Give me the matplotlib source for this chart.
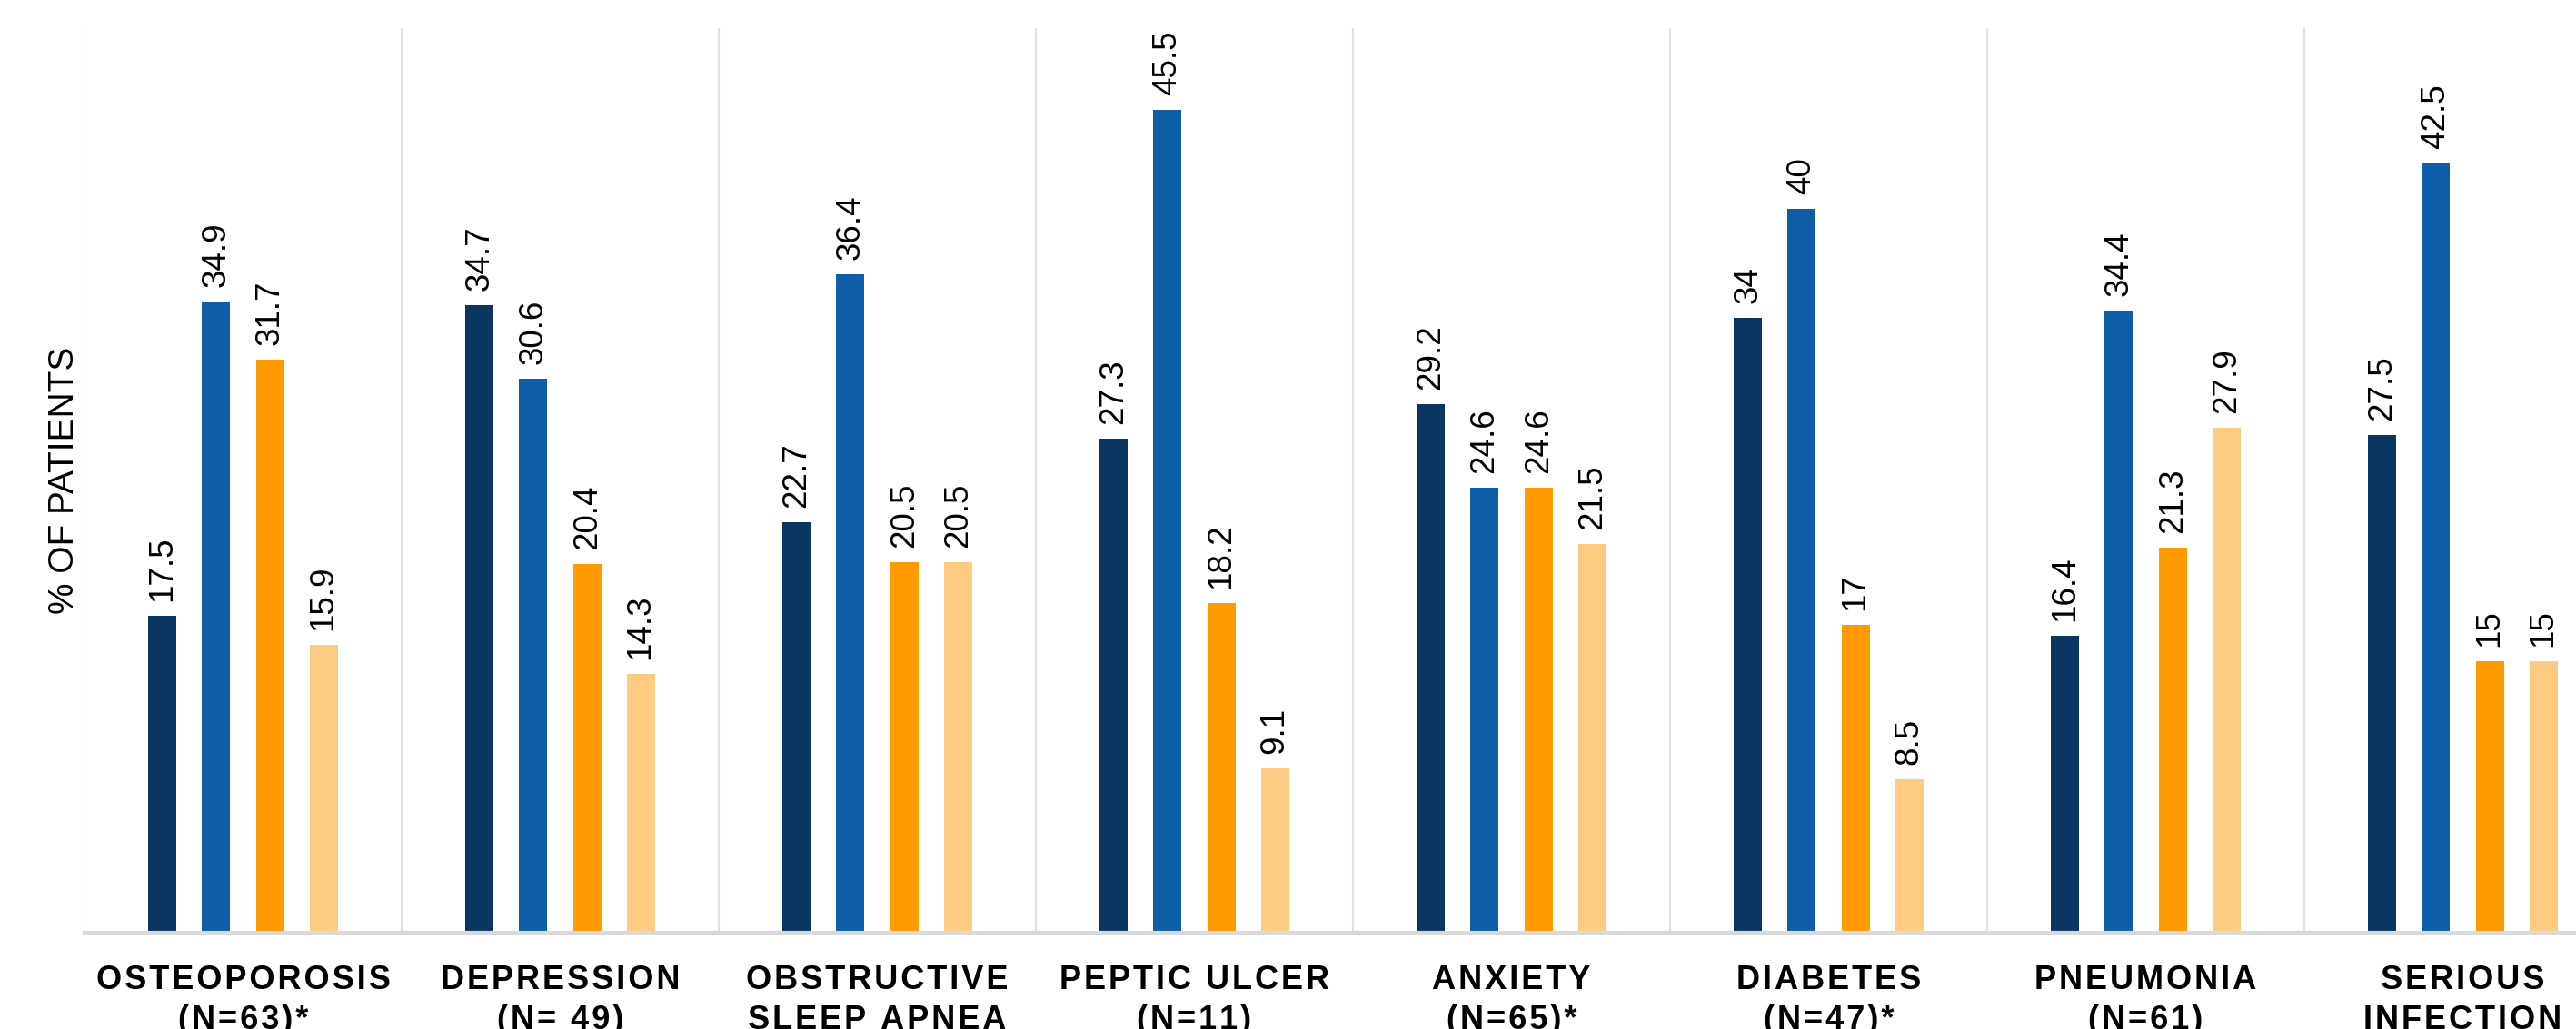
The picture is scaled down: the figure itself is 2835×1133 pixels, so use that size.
import numpy as np
import matplotlib.pyplot as plt

plt.rcParams['font.family'] = ['Liberation Sans', 'DejaVu Sans']

categorias = ['OSTEOPOROSIS\n(N=63)*', 'DEPRESSION\n(N= 49)', 'OBSTRUCTIVE\nSLEEP APNEA',
              'PEPTIC ULCER\n(N=11)', 'ANXIETY\n(N=65)*', 'DIABETES\n(N=47)*',
              'PNEUMONIA\n(N=61)', 'SERIOUS\nINFECTION']

serie_1 = [17.5, 34.7, 22.7, 27.3, 29.2, 34, 16.4, 27.5]
serie_2 = [34.9, 30.6, 36.4, 45.5, 24.6, 40, 34.4, 42.5]
serie_3 = [31.7, 20.4, 20.5, 18.2, 24.6, 17, 21.3, 15]
serie_4 = [15.9, 14.3, 20.5, 9.1, 21.5, 8.5, 27.9, 15]

colores = ['#0a3762', '#0e5fa8', '#ff9a00', '#fdcc82']


def espaciar(texto):
    # un poco de espacio entre letras, como en el original
    return '\n'.join('\u200a'.join(linea) for linea in texto.split('\n'))


fig = plt.figure(figsize=(28.35, 11.33), dpi=100)
# el eje se sale por la derecha, como en la imagen original (recortada)
ax = fig.add_axes([93 / 2835, 106 / 1133, 2792 / 2835, 996 / 1133])

x = np.arange(len(categorias))
ancho = 0.089
desplazamientos = [-0.254, -0.085, 0.085, 0.254]

for serie, color, d in zip([serie_1, serie_2, serie_3, serie_4], colores, desplazamientos):
    barras = ax.bar(x + d, serie, width=ancho, color=color, zorder=2)
    for b, v in zip(barras, serie):
        ax.annotate(f'{v:g}', (b.get_x() + b.get_width() / 2, b.get_height()),
                    xytext=(0, 11.5), textcoords='offset points',
                    rotation=90, ha='center', va='bottom', fontsize=26.5)

ax.set_xlim(-0.5, 7.5)
ax.set_ylim(0, 50)

ax.set_xticks(x)
ax.set_xticklabels([espaciar(c) for c in categorias], fontsize=26, fontweight='bold',
                   linespacing=1.33)
ax.set_xticks(np.arange(-0.5, 8, 1), minor=True)
ax.tick_params(axis='x', which='both', length=0, pad=25)
ax.set_yticks([])

ax.grid(axis='x', which='minor', color='#e0e0e0', linewidth=1.5, zorder=0)

for lado in ['top', 'right', 'left']:
    ax.spines[lado].set_visible(False)
ax.spines['bottom'].set_color('#d9d9d9')
ax.spines['bottom'].set_linewidth(3)

ax.set_ylabel('% OF PATIENTS', fontsize=28, labelpad=3)

plt.savefig('out.png', dpi=100)
